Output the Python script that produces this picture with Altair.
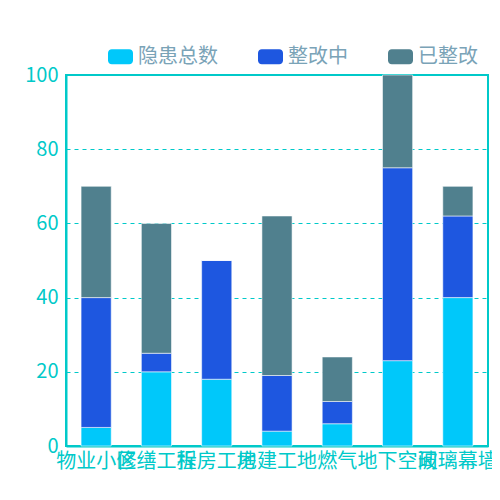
import altair as alt
import pandas as pd

categories = ["物业小区", "修缮工程", "拆房工地", "房建工地", "燃气", "地下空间", "玻璃幕墙"]
series = ["隐患总数", "整改中", "已整改"]
total_vals = [5, 20, 18, 4, 6, 23, 40]
inprogress_vals = [35, 5, 32, 15, 6, 52, 22]
done_vals = [30, 35, 0, 43, 12, 25, 8]
colors = ["#00c8fa", "#1e57e0", "#50808e"]

rows = []
for i, c in enumerate(categories):
    for k, (s, vals) in enumerate(zip(series, [total_vals, inprogress_vals, done_vals])):
        rows.append({"cat": c, "series": s, "value": vals[i], "ord": k})
df = pd.DataFrame(rows)

teal = "#00c9c9"
font = "Noto Sans CJK SC"
rr = ("M-0.7,-0.6 L0.7,-0.6 A0.3,0.3 0 0 1 1,-0.3 L1,0.3 A0.3,0.3 0 0 1 0.7,0.6 "
      "L-0.7,0.6 A0.3,0.3 0 0 1 -1,0.3 L-1,-0.3 A0.3,0.3 0 0 1 -0.7,-0.6 Z")

chart = alt.Chart(df).mark_bar(stroke="#ffffff", strokeOpacity=0.55, strokeWidth=1).encode(
    x=alt.X("cat:N", sort=categories, title=None,
            scale=alt.Scale(paddingInner=0.5, paddingOuter=0.25),
            axis=alt.Axis(labelAngle=0, labelOverlap=False, ticks=False, labelPadding=5,
                          labelFontSize=20, labelColor=teal, domainColor=teal,
                          domainWidth=2, labelFont=font)),
    y=alt.Y("value:Q", stack="zero", title=None,
            scale=alt.Scale(domain=[0, 100], nice=False),
            axis=alt.Axis(values=[0, 20, 40, 60, 80, 100], ticks=False, labelPadding=8,
                          labelFontSize=20, labelColor=teal, domainColor=teal,
                          domainWidth=2, grid=True, gridColor=teal, gridDash=[4, 4],
                          gridWidth=1, labelFont=font)),
    color=alt.Color("series:N", sort=series,
                    scale=alt.Scale(domain=series, range=colors),
                    legend=alt.Legend(title=None, orient="none", direction="horizontal",
                                      legendX=42, legendY=-31, symbolType=rr,
                                      symbolSize=625, symbolStrokeWidth=0,
                                      symbolOpacity=1, labelOffset=5, columnPadding=40,
                                      labelFontSize=20, labelColor="#7aa3b7",
                                      labelFont=font)),
    order=alt.Order("ord:Q", sort="ascending"),
).properties(
    width=422, height=371,
    autosize=alt.AutoSizeParams(type="none"),
    padding={"left": 58, "top": 67, "right": 4, "bottom": 40},
    background="#ffffff",
).configure_view(stroke=teal, strokeWidth=2)

chart.save("out.html", embed_options={"renderer": "svg", "actions": False})
